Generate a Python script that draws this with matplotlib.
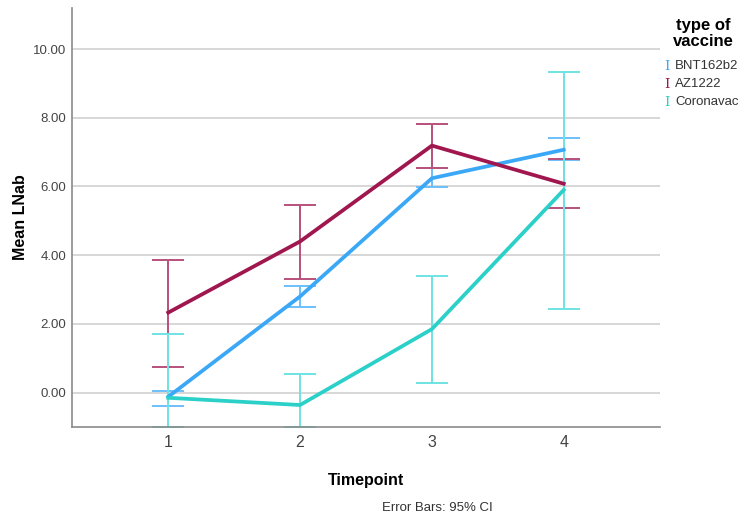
import matplotlib.pyplot as plt
import numpy as np

plt.rcParams['font.family'] = ['Liberation Sans', 'DejaVu Sans']

# Data (mean LNab with 95% CI)
timepoints = [1, 2, 3, 4]
vaccines = ['BNT162b2', 'AZ1222', 'Coronavac']

bnt_mean = [-0.12, 2.80, 6.24, 7.07]
bnt_low = [-0.38, 2.49, 5.99, 6.76]
bnt_high = [0.04, 3.11, 6.55, 7.40]

az_mean = [2.33, 4.40, 7.19, 6.08]
az_low = [0.76, 3.32, 6.55, 5.38]
az_high = [3.86, 5.45, 7.83, 6.79]

cor_mean = [-0.15, -0.36, 1.85, 5.90]
cor_low = [-1.0, -1.0, 0.27, 2.42]
cor_high = [1.72, 0.54, 3.40, 9.34]

yticks = [0, 2, 4, 6, 8, 10]

line_colors = ['#3aa8f7', '#a0174f', '#2bd0c8']
bar_colors = ['#6cc0fb', '#b8507c', '#6fe3e3']

series = [
    (bnt_mean, bnt_low, bnt_high),
    (az_mean, az_low, az_high),
    (cor_mean, cor_low, cor_high),
]

fig = plt.figure(figsize=(7.5, 5.22), dpi=100)
ax = fig.add_axes([0.096, 0.182, 0.784, 0.803])

for y in yticks:
    ax.axhline(y, color='#d4d4d4', linewidth=1.3, zorder=0)

# error bars first, lines on top
for (m, lo, hi), bc in zip(series, bar_colors):
    m = np.array(m)
    yerr = [m - np.array(lo), np.array(hi) - m]
    ax.errorbar(timepoints, m, yerr=yerr, fmt='none', ecolor=bc,
                elinewidth=1.4, capsize=11.5, capthick=1.4, zorder=2)

for (m, lo, hi), lc in zip(series, line_colors):
    ax.plot(timepoints, m, color=lc, linewidth=2.7, zorder=3,
            solid_joinstyle='miter')

ax.set_xlim(0.27, 4.73)
ax.set_ylim(-1.0, 11.2)
ax.set_xticks(timepoints)
ax.set_xticklabels([str(t) for t in timepoints], fontsize=11.5, color='#444444')
ax.set_yticks(yticks)
ax.set_yticklabels([f'{v:.2f}' for v in yticks], fontsize=9.5, color='#444444')
ax.tick_params(axis='y', length=0, pad=4)
ax.tick_params(axis='x', length=0, pad=6)

for s in ['top', 'right']:
    ax.spines[s].set_visible(False)
for s in ['left', 'bottom']:
    ax.spines[s].set_color('#8a8a8a')
    ax.spines[s].set_linewidth(1.2)

ax.set_xlabel('Timepoint', fontsize=11.5, fontweight='bold', labelpad=16)
ax.set_ylabel('Mean LNab', fontsize=11.5, fontweight='bold', labelpad=4)

fig.text(437 / 750, 1 - 508 / 522, 'Error Bars: 95% CI', fontsize=9.5,
         color='#333333', ha='center', va='center')

# legend
fig.text(703 / 750, 1 - 18 / 522, 'type of\nvaccine', fontsize=12,
         fontweight='bold', ha='center', va='top', linespacing=1.08)
for i, (name, bc) in enumerate(zip(vaccines, line_colors)):
    yy = 1 - (66 + 18 * i) / 522
    fig.text(667 / 750, yy, 'I', fontsize=9.5, color=bc, ha='center',
             va='center', family='DejaVu Serif')
    fig.text(675 / 750, yy, name, fontsize=9.5, color='#333333',
             ha='left', va='center')

fig.savefig('out.png', dpi=100)
